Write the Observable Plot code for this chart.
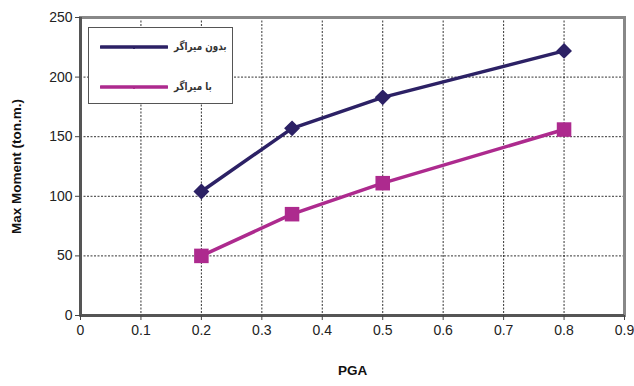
<!DOCTYPE html>
<html>
<head>
<meta charset="utf-8">
<script src="https://cdn.jsdelivr.net/npm/d3@7"></script>
<script src="https://cdn.jsdelivr.net/npm/@observablehq/plot@0.6"></script>
<style>
  html, body { margin: 0; padding: 0; background: #fff; }
  #wrap { position: relative; width: 634px; height: 386px; }
  #wrap svg text { font-family: "Liberation Sans", Arial, sans-serif !important; }
  #wrap svg g[aria-label="x-axis tick label"] text,
  #wrap svg g[aria-label="y-axis tick label"] text,
  #wrap svg g[aria-label="x-axis tick label"],
  #wrap svg g[aria-label="y-axis tick label"] { font-size: 14px !important; fill: #222; }
  #wrap svg g[aria-label="x-axis label"],
  #wrap svg g[aria-label="y-axis label"],
  #wrap svg g[aria-label="x-axis label"] text,
  #wrap svg g[aria-label="y-axis label"] text { font-size: 13.5px !important; font-weight: bold; fill: #111; }
  #legend {
    position: absolute; left: 88px; top: 27px; width: 145px; height: 77px;
    border: 1.5px solid #555; background: #fff; box-sizing: border-box;
    font-family: "DejaVu Sans", sans-serif; font-size: 11px; font-weight: bold; color: #333;
  }
  .item { position: absolute; left: 11px; display: flex; align-items: center; }
  .item svg { display: block; }
  .item span { margin-left: 6px; direction: rtl; white-space: nowrap; display: inline-block; transform: scaleX(0.8); transform-origin: left center; }
</style>
</head>
<body>
<div id="wrap"><div id="legend"></div></div>
<script>
const pga = [0.2, 0.35, 0.5, 0.8];
const withoutDamper = [104, 157, 183, 222];
const withDamper = [50, 85, 111, 156];
const seriesNames = ["بدون میراگر", "با میراگر"];
const seriesColors = ["#2c2165", "#ad2a8e"];
const xTicks = [0, 0.1, 0.2, 0.3, 0.4, 0.5, 0.6, 0.7, 0.8, 0.9];
const yTicks = [0, 50, 100, 150, 200, 250];

const s1 = pga.map((x, i) => ({x, y: withoutDamper[i]}));
const s2 = pga.map((x, i) => ({x, y: withDamper[i]}));
const fmt = d => String(+d.toFixed(1));

const chart = Plot.plot({
  width: 634,
  height: 386,
  marginLeft: 80,
  marginRight: 10,
  marginTop: 17,
  marginBottom: 71,
  style: {fontFamily: "Liberation Sans, Arial, sans-serif", fontSize: "14px", color: "#222", background: "#fff"},
  x: {domain: [0, 0.9]},
  y: {domain: [0, 250]},
  marks: [
    Plot.gridX(xTicks.slice(1, -1), {stroke: "#111", strokeOpacity: 0.85, strokeDasharray: "2,1.5", strokeWidth: 1}),
    Plot.gridY(yTicks.slice(1, -1), {stroke: "#111", strokeOpacity: 0.85, strokeDasharray: "2,1.5", strokeWidth: 1}),
    Plot.frame({stroke: "#888", strokeWidth: 3}),
    Plot.ruleX([0], {stroke: "#555", strokeWidth: 3}),
    Plot.ruleY([0], {stroke: "#555", strokeWidth: 3}),
    Plot.axisX({ticks: xTicks, tickFormat: fmt, label: "PGA", labelAnchor: "center", labelArrow: "none", labelOffset: 59, tickSize: 5, tickPadding: 5, stroke: "#444"}),
    Plot.axisY({ticks: yTicks, label: "Max Moment (ton.m.)", labelAnchor: "center", labelArrow: "none", labelOffset: 69, tickSize: 5, tickPadding: 3, stroke: "#444"}),
    Plot.line(s1, {x: "x", y: "y", stroke: seriesColors[0], strokeWidth: 3.5}),
    Plot.dot(s1, {x: "x", y: "y", symbol: "diamond2", r: 6.2, fill: seriesColors[0], stroke: seriesColors[0]}),
    Plot.line(s2, {x: "x", y: "y", stroke: seriesColors[1], strokeWidth: 3.5}),
    Plot.dot(s2, {x: "x", y: "y", symbol: "square", r: 8.2, fill: seriesColors[1], stroke: "none"})
  ]
});
document.getElementById("wrap").prepend(chart);

const legend = document.getElementById("legend");
const tops = [12, 52];
seriesNames.forEach((name, i) => {
  const item = document.createElement("div");
  item.className = "item";
  item.style.top = tops[i] + "px";
  item.innerHTML = `<svg width="68" height="12"><line x1="1" y1="6" x2="67" y2="6" stroke="${seriesColors[i]}" stroke-width="3.5" stroke-linecap="round"/><rect x="33" y="5" width="2" height="3" fill="${seriesColors[i]}"/></svg><span>${name}</span>`;
  legend.appendChild(item);
});
</script>
</body>
</html>
